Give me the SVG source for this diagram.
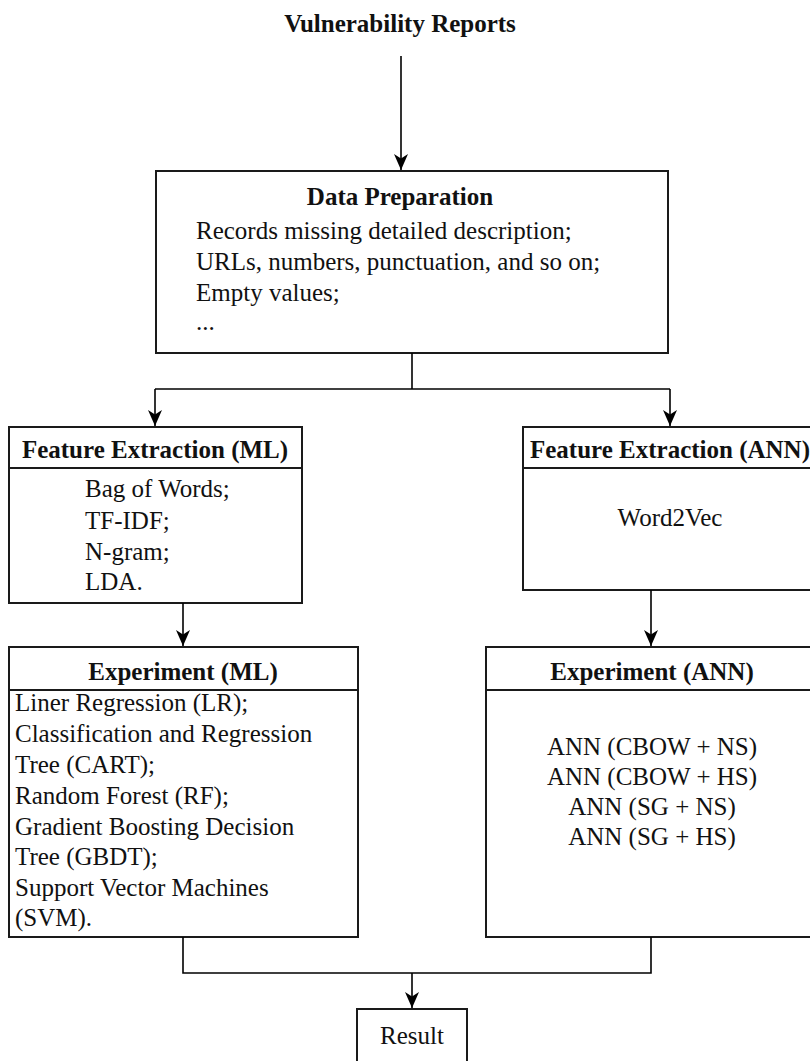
<svg xmlns="http://www.w3.org/2000/svg" width="810" height="1061" viewBox="0 0 810 1061">
<style>
  .box { fill: #ffffff; stroke: #1a1a1a; stroke-width: 2; }
  .div { stroke: #1a1a1a; stroke-width: 2; fill: none; }
  .conn { fill: none; stroke: #000000; stroke-width: 1.6; }
  text { font-family: "Liberation Serif", "Times New Roman", serif; font-size: 25px; fill: #111111; }
  .b { font-weight: bold; }
  .c { text-anchor: middle; }
</style>
<defs>
  <marker id="arr" markerWidth="18" markerHeight="18" viewBox="0 0 18 18" refX="16" refY="9" orient="auto" markerUnits="userSpaceOnUse">
    <path d="M0,2 L16,9 L0,16 L4.5,9 Z" fill="#000000"/>
  </marker>
</defs>

<text id="title" class="b c" x="400" y="32">Vulnerability Reports</text>

<g id="data-preparation">
  <rect class="box" x="156" y="171" width="512" height="182"/>
  <text class="b c" x="400" y="205">Data Preparation</text>
  <text x="196" y="239">Records missing detailed description;</text>
  <text x="196" y="270">URLs, numbers, punctuation, and so on;</text>
  <text x="196" y="301">Empty values;</text>
  <text x="196" y="330">...</text>
</g>

<g id="feature-extraction-ml">
  <rect class="box" x="9" y="427" width="293" height="176"/>
  <line class="div" x1="9" y1="468" x2="302" y2="468"/>
  <text class="b c" x="155" y="458">Feature Extraction (ML)</text>
  <text x="85" y="497">Bag of Words;</text>
  <text x="85" y="529">TF-IDF;</text>
  <text x="85" y="560">N-gram;</text>
  <text x="85" y="590">LDA.</text>
</g>

<g id="feature-extraction-ann">
  <rect class="box" x="523" y="427" width="294" height="163"/>
  <line class="div" x1="523" y1="468" x2="817" y2="468"/>
  <text class="b c" x="670" y="458">Feature Extraction (ANN)</text>
  <text class="c" x="670" y="526">Word2Vec</text>
</g>

<g id="experiment-ml">
  <rect class="box" x="9" y="647" width="349" height="290"/>
  <line class="div" x1="9" y1="690" x2="358" y2="690"/>
  <text class="b c" x="183" y="680">Experiment (ML)</text>
  <text x="15" y="711">Liner Regression (LR);</text>
  <text x="15" y="742">Classification and Regression</text>
  <text x="15" y="773">Tree (CART);</text>
  <text x="15" y="804">Random Forest (RF);</text>
  <text x="15" y="835">Gradient Boosting Decision</text>
  <text x="15" y="865">Tree (GBDT);</text>
  <text x="15" y="896">Support Vector Machines</text>
  <text x="15" y="926">(SVM).</text>
</g>

<g id="experiment-ann">
  <rect class="box" x="486" y="647" width="331" height="290"/>
  <line class="div" x1="486" y1="690" x2="817" y2="690"/>
  <text class="b c" x="652" y="680">Experiment (ANN)</text>
  <text class="c" x="652" y="755">ANN (CBOW + NS)</text>
  <text class="c" x="652" y="785">ANN (CBOW + HS)</text>
  <text class="c" x="652" y="815">ANN (SG + NS)</text>
  <text class="c" x="652" y="845">ANN (SG + HS)</text>
</g>

<g id="result">
  <rect class="box" x="357" y="1009" width="110" height="70"/>
  <text class="c" x="412" y="1044">Result</text>
</g>

<g id="connectors">
  <line class="conn" x1="401" y1="56" x2="401" y2="170" marker-end="url(#arr)"/>
  <polyline class="conn" points="412,353 412,389"/>
  <polyline class="conn" points="155,389 670,389"/>
  <line class="conn" x1="155" y1="389" x2="155" y2="426" marker-end="url(#arr)"/>
  <line class="conn" x1="670" y1="389" x2="670" y2="426" marker-end="url(#arr)"/>
  <line class="conn" x1="183" y1="603" x2="183" y2="646" marker-end="url(#arr)"/>
  <line class="conn" x1="651" y1="590" x2="651" y2="646" marker-end="url(#arr)"/>
  <polyline class="conn" points="183,937 183,973 651,973 651,937"/>
  <line class="conn" x1="412" y1="973" x2="412" y2="1008" marker-end="url(#arr)"/>
</g>
</svg>
